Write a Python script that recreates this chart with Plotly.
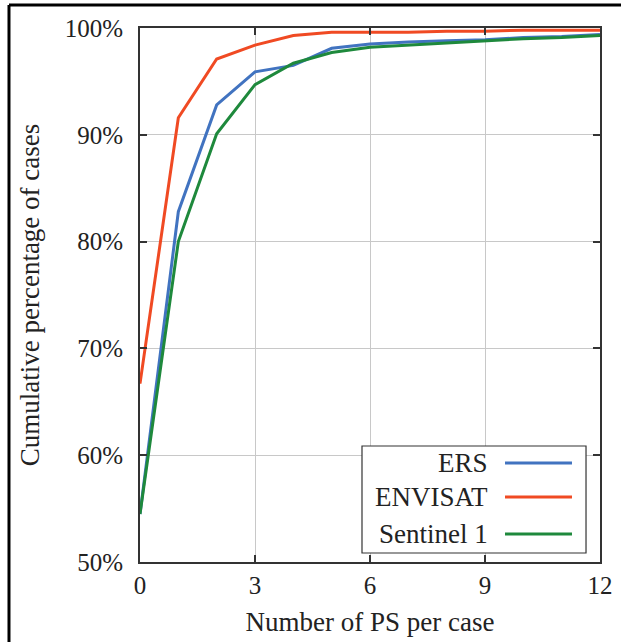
import plotly.graph_objects as go

# data
ps_per_case = [0, 1, 2, 3, 4, 5, 6, 7, 8, 9, 10, 11, 12]
ers = [54.5, 82.8, 92.8, 95.9, 96.5, 98.1, 98.5, 98.7, 98.8, 98.9, 99.1, 99.2, 99.4]
envisat = [66.7, 91.6, 97.1, 98.4, 99.3, 99.6, 99.6, 99.6, 99.7, 99.7, 99.8, 99.8, 99.8]
sentinel = [54.5, 80.0, 90.1, 94.7, 96.7, 97.7, 98.2, 98.4, 98.6, 98.8, 99.0, 99.1, 99.3]

names = ['ERS', 'ENVISAT', 'Sentinel 1']
colors = ['rgb(65,115,192)', 'rgb(240,74,35)', 'rgb(30,137,60)']
x_ticks = [0, 3, 6, 9, 12]
y_ticks = [50, 60, 70, 80, 90, 100]

FONT = 'Liberation Serif'
TXT = '#222222'

fig = go.Figure()
for name, ys, c in zip(names, [ers, envisat, sentinel], colors):
    fig.add_trace(go.Scatter(x=ps_per_case, y=ys, mode='lines', name=name,
                             line=dict(color=c, width=3), showlegend=False))

axis_common = dict(
    showline=True, linecolor='#333333', linewidth=2, mirror='ticks',
    ticks='inside', ticklen=7, tickwidth=1.5, tickcolor='#333333',
    showgrid=True, gridcolor='#c8c8c8', gridwidth=1, zeroline=False,
    tickfont=dict(family=FONT, size=25, color=TXT), automargin=False,
)

fig.update_xaxes(range=[0, 12], tickvals=x_ticks, ticktext=[str(v) for v in x_ticks],
                 title=dict(text='Number of PS per case', font=dict(family=FONT, size=27, color=TXT), standoff=14),
                 ticklabelstandoff=0, **axis_common)
fig.update_yaxes(range=[50, 100], tickvals=y_ticks, ticktext=[f'{v}%' for v in y_ticks],
                 title=dict(text='Cumulative percentage of cases', font=dict(family=FONT, size=27, color=TXT), standoff=17),
                 ticklabelstandoff=10, **axis_common)

# legend drawn by hand: text on the left, line sample on the right
fig.add_shape(type='rect', xref='paper', yref='paper', x0=0.4826, x1=0.9696, y0=0.0169, y1=0.2172,
              line=dict(color='#333333', width=1.2), fillcolor='white', layer='above')
leg_y = [0.1854, 0.1217, 0.0524]
for name, c, ly in zip(names, colors, leg_y):
    fig.add_annotation(xref='paper', yref='paper', x=0.7609, y=ly, text=name, showarrow=False,
                       xanchor='right', yanchor='middle', font=dict(family=FONT, size=27, color=TXT))
    fig.add_shape(type='line', xref='paper', yref='paper', x0=0.7935, x1=0.9391, y0=ly, y1=ly,
                  line=dict(color=c, width=3), layer='above')

# outer frame (top and left edges)
fig.add_shape(type='line', xref='paper', yref='paper', x0=-0.2848, x1=1.1, y0=1.0431, y1=1.0431,
              line=dict(color='black', width=3))
fig.add_shape(type='line', xref='paper', yref='paper', x0=-0.2848, x1=-0.2848, y0=1.0431, y1=-0.2,
              line=dict(color='black', width=3))

fig.update_layout(
    width=621, height=642,
    margin=dict(l=140, r=21, t=28, b=80),
    plot_bgcolor='white', paper_bgcolor='white',
    showlegend=False,
)

# drop the page's default body margin so the figure sits at the top-left corner
fig.write_html('out.html', config={'displayModeBar': False},
               post_script="document.body.style.margin='0';")
